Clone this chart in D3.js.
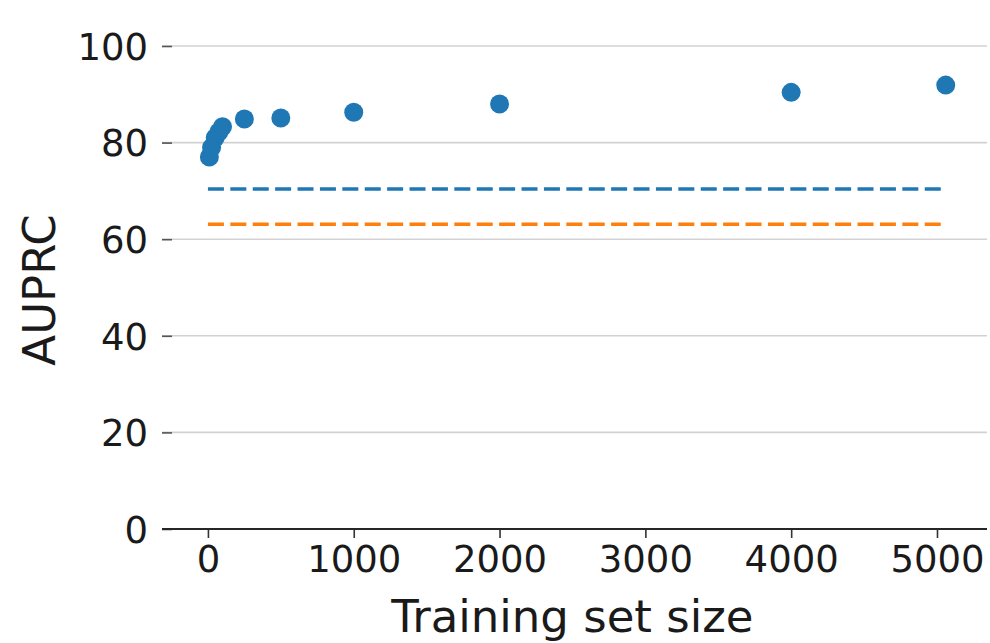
<!DOCTYPE html>
<html>
<head>
<meta charset="utf-8">
<script src="https://cdn.jsdelivr.net/npm/d3@7"></script>
<style>
  body { margin: 0; background: #fff; }
  text { font-family: "DejaVu Sans", sans-serif; fill: #1a1a1a; }
</style>
</head>
<body>
<div id="chart"></div>
<script>
// training set sizes and the AUPRC
const trainSizes = [10, 25, 50, 75, 100, 250, 500, 1000, 2000, 4000, 5060];
const auprc = [77.0, 79.0, 81.0, 82.2, 83.3, 84.9, 85.1, 86.3, 88.0, 90.4, 91.9];

// the two dashed reference levels
const baselineNames = ["blue", "orange"];
const baselineValues = [70.4, 63.1];
const baselineColors = ["#1f77b4", "#ff7f0e"];

const yTicks = [0, 20, 40, 60, 80, 100];
const xTicks = [0, 1000, 2000, 3000, 4000, 5000];

const width = 990, height = 643;

// scales
var x = d3.scaleLinear().domain([-315, 5343]).range([162, 987]);
var y = d3.scaleLinear().domain([0, 100]).range([529, 46]);

var svg = d3.select("#chart").append("svg")
    .attr("width", width)
    .attr("height", height);

// grid lines
svg.append("g")
  .selectAll("line")
  .data(yTicks.filter(d => d > 0))
  .enter().append("line")
    .attr("x1", 162).attr("x2", 987)
    .attr("y1", d => y(d)).attr("y2", d => y(d))
    .attr("stroke", "#d2d2d2")
    .attr("stroke-width", 1.6);

// Y axis, no spine
var yAxis = svg.append("g")
    .attr("transform", "translate(172,0)")
    .call(d3.axisLeft(y).tickValues(yTicks).tickFormat(d3.format("d")).tickSize(10).tickPadding(14));
yAxis.select(".domain").remove();
yAxis.selectAll(".tick line").attr("stroke", "#555").attr("stroke-width", 1.6);
yAxis.selectAll(".tick text").style("font-size", "37px").attr("dy", "0.36em");

// X axis
var xAxis = svg.append("g")
    .attr("transform", "translate(0,529)")
    .call(d3.axisBottom(x).tickValues(xTicks).tickFormat(d3.format("d")).tickSize(9).tickPadding(8));
xAxis.select(".domain").remove();
xAxis.selectAll(".tick line").attr("stroke", "#333").attr("stroke-width", 1.6);
xAxis.selectAll(".tick text").style("font-size", "37px").attr("dy", "0.71em");

svg.append("line")
    .attr("x1", 162).attr("x2", 987)
    .attr("y1", 529).attr("y2", 529)
    .attr("stroke", "#262626")
    .attr("stroke-width", 2.2);

// dashed baselines
svg.append("g")
  .selectAll("line")
  .data(baselineValues)
  .enter().append("line")
    .attr("x1", x(0))
    .attr("x2", x(d3.max(trainSizes)))
    .attr("y1", d => y(d)).attr("y2", d => y(d))
    .attr("stroke", (d, i) => baselineColors[i])
    .attr("stroke-width", 3.6)
    .attr("stroke-dasharray", "16,6.4");

// points
svg.append("g")
  .selectAll("circle")
  .data(trainSizes)
  .enter().append("circle")
    .attr("cx", d => x(d))
    .attr("cy", (d, i) => y(auprc[i]))
    .attr("r", 9.5)
    .attr("fill", "#1f77b4");

// axis labels
svg.append("text")
    .attr("x", x(2500))
    .attr("y", 632)
    .attr("text-anchor", "middle")
    .style("font-size", "45px")
    .text("Training set size");

svg.append("text")
    .attr("transform", "translate(55,290) rotate(-90)")
    .attr("text-anchor", "middle")
    .style("font-size", "45px")
    .text("AUPRC");
</script>
</body>
</html>
